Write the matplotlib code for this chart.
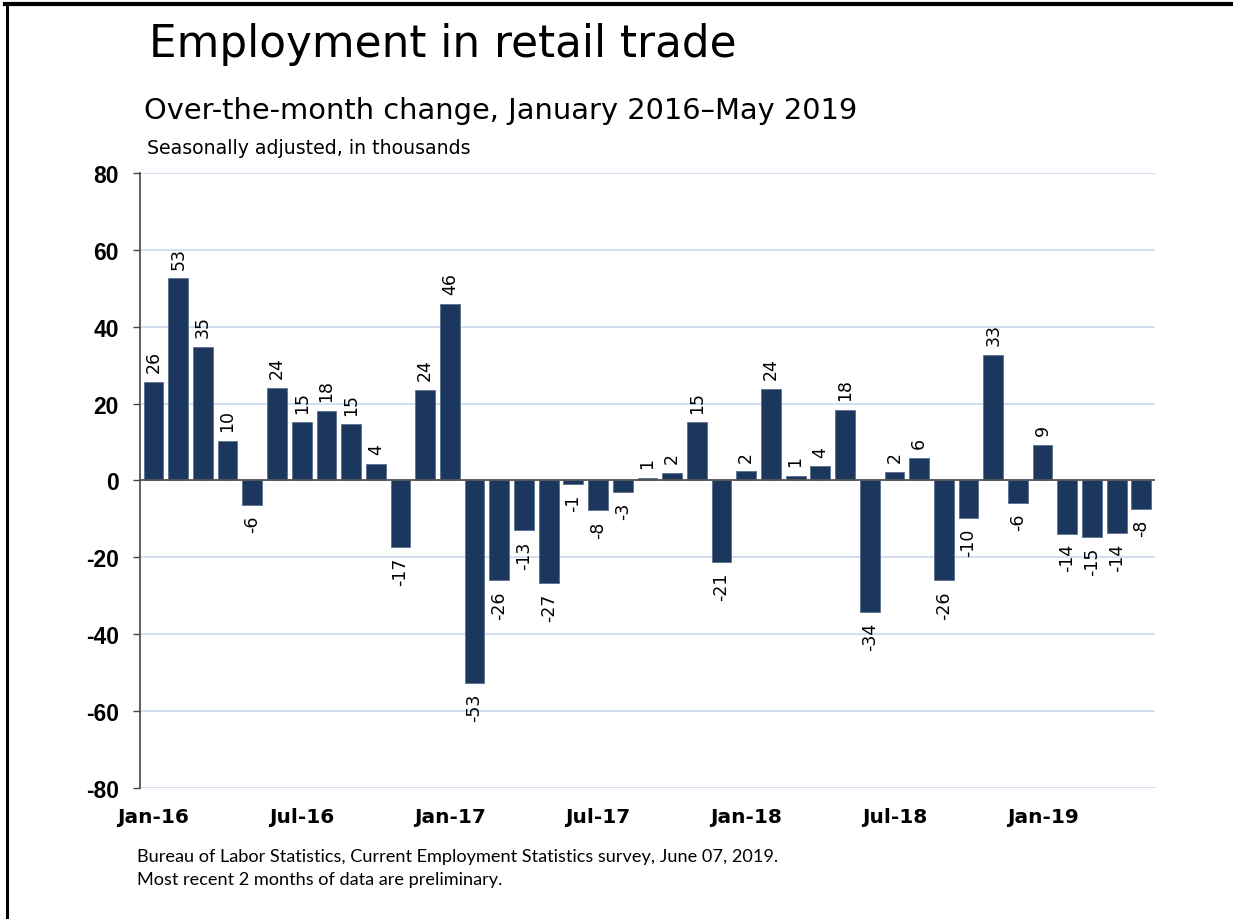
import matplotlib
matplotlib.use("Agg")
import matplotlib.pyplot as plt
from matplotlib.lines import Line2D

plt.rcParams["axes.unicode_minus"] = False

months = ["Jan-16", "Feb-16", "Mar-16", "Apr-16", "May-16", "Jun-16", "Jul-16", "Aug-16", "Sep-16", "Oct-16",
          "Nov-16", "Dec-16", "Jan-17", "Feb-17", "Mar-17", "Apr-17", "May-17", "Jun-17", "Jul-17", "Aug-17",
          "Sep-17", "Oct-17", "Nov-17", "Dec-17", "Jan-18", "Feb-18", "Mar-18", "Apr-18", "May-18", "Jun-18",
          "Jul-18", "Aug-18", "Sep-18", "Oct-18", "Nov-18", "Dec-18", "Jan-19", "Feb-19", "Mar-19", "Apr-19",
          "May-19"]
change = [25.6, 52.6, 34.8, 10.3, -6.3, 24.1, 15.1, 18.1, 14.6, 4.4,
          -17.2, 23.6, 45.9, -52.6, -26.0, -13.0, -26.7, -0.9, -7.8, -2.9,
          0.7, 1.9, 15.1, -21.1, 2.4, 23.9, 1.2, 3.7, 18.3, -34.3,
          2.3, 5.9, -26.0, -9.8, 32.6, -5.8, 9.3, -13.8, -14.7, -13.6,
          -7.5]
labels = [str(int(round(v))) for v in change]
tick_idx = [0, 6, 12, 18, 24, 30, 36]

bar_color = "#1b375e"
grid_color = "#c8d9ef"

fig = plt.figure(figsize=(12.33, 9.2), dpi=100)
ax = fig.add_axes([0.1135, 0.1424, 0.8232, 0.6685])

x = list(range(len(change)))
ax.bar(x, change, width=0.8, color=bar_color, edgecolor="#5a6f8c", linewidth=0.6, zorder=3)

for i, v in enumerate(change):
    if v >= 0:
        ax.annotate(labels[i], (i, v), xytext=(0, 7), textcoords="offset points",
                    rotation=90, ha="center", va="bottom", fontsize=12.5, family="DejaVu Sans")
    else:
        ax.annotate(labels[i], (i, v), xytext=(0, -7), textcoords="offset points",
                    rotation=90, ha="center", va="top", fontsize=12.5, family="DejaVu Sans")

ax.set_xlim(-0.55, len(change) - 0.45)
ax.set_ylim(-80, 80)
ax.set_yticks(range(-80, 81, 20))
ax.yaxis.grid(True, color=grid_color, linewidth=1.2, zorder=0)
ax.axhline(0, color="#555555", linewidth=1.3, zorder=4)

ax.set_xticks(tick_idx)
ax.set_xticklabels([months[i] for i in tick_idx])
ax.tick_params(axis="x", length=0, pad=14)
ax.tick_params(axis="y", length=5, width=1, color="#444444", pad=10)
for lab in ax.get_xticklabels():
    lab.set_fontsize(14.5)
    lab.set_fontweight("bold")
    lab.set_family("DejaVu Sans")
for lab in ax.get_yticklabels():
    lab.set_fontsize(16.5)
    lab.set_fontweight("bold")
    lab.set_family("Liberation Sans")

for s in ["top", "right", "bottom"]:
    ax.spines[s].set_visible(False)
ax.spines["left"].set_color("#444444")
ax.spines["left"].set_linewidth(1.2)

fig.text(0.121, 0.938, "Employment in retail trade", fontsize=31.5, family="DejaVu Sans", va="baseline")
fig.text(0.117, 0.8707, "Over-the-month change, January 2016\u2013May 2019", fontsize=20.8,
         family="DejaVu Sans", va="baseline")
fig.text(0.119, 0.8326, "Seasonally adjusted, in thousands", fontsize=13.6, family="DejaVu Sans", va="baseline")

fig.text(0.111, 0.069, "Bureau of Labor Statistics, Current Employment Statistics survey, June 07, 2019.",
         fontsize=13.1, family=["Lato", "DejaVu Sans"], va="center")
fig.text(0.111, 0.043, "Most recent 2 months of data are preliminary.",
         fontsize=13.1, family=["Lato", "DejaVu Sans"], va="center")

# frame lines on the left and top of the picture
fig.add_artist(Line2D([0.0055, 0.0055], [0.0, 0.995], transform=fig.transFigure, color="black", linewidth=2.2))
fig.add_artist(Line2D([0.004, 1.0], [0.995, 0.995], transform=fig.transFigure, color="black", linewidth=3))

fig.savefig("out.png", dpi=100)
